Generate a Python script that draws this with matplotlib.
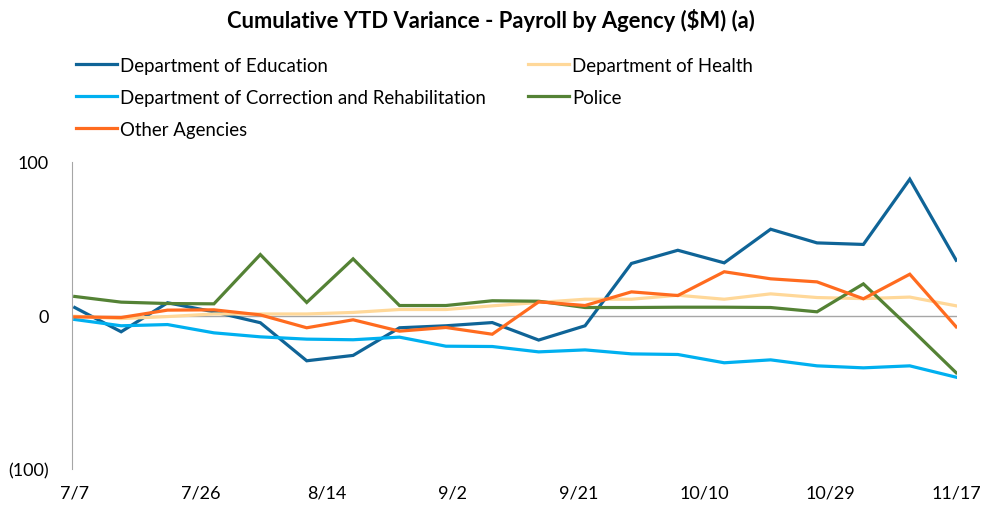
import numpy as np
import pandas as pd
import matplotlib
matplotlib.use("Agg")
import matplotlib.pyplot as plt

plt.rcParams['font.family'] = ['Lato', 'DejaVu Sans']

# weekly data points, 7/7 to 11/17
dates = pd.date_range("2023-07-07", periods=20, freq="7D")

education = [5.2, -10.6, 8.3, 2.4, -4.7, -29.5, -26, -8, -6.7, -4.6,
             -16, -6.7, 33.9, 42.5, 34.3, 56.2, 47.3, 46.3, 88.8, 36]
health = [-0.5, -2, -0.7, 1, 1, 1, 2, 3.9, 3.9, 6.3,
          8.5, 10.6, 10.6, 13.2, 10.6, 14.1, 11.7, 11, 12, 6.3]
correction = [-2.6, -6.7, -5.9, -11.3, -13.9, -15.4, -15.8, -14.1, -20, -20.2,
              -23.7, -22.4, -25, -25.4, -30.8, -28.9, -32.8, -34.1, -32.8, -40.2]
police = [12.4, 8.7, 7.8, 7.6, 39.7, 8.5, 36.9, 6.5, 6.5, 9.6,
          9.3, 5.2, 5.2, 5.4, 5.4, 5.2, 2.4, 20.6, -8, -37.3]
other = [-0.9, -1.3, 3.5, 3.7, 0.4, -8, -2.8, -10.2, -7.8, -12.2,
         8.9, 6.5, 15.4, 13, 28.5, 23.9, 21.9, 10.9, 26.9, -7.4]

series = [
    ("Department of Education", education, "#0F6497"),
    ("Department of Health", health, "#FFD899"),
    ("Department of Correction and Rehabilitation", correction, "#00B0F0"),
    ("Police", police, "#548235"),
    ("Other Agencies", other, "#FF6B1F"),
]

fig = plt.figure(figsize=(9.81, 5.06), dpi=100)
ax = fig.add_axes([72/981, 1-470/506, (957-72)/981, (470-163)/506])

lines = {}
for name, vals, col in series:
    ln, = ax.plot(dates, vals, color=col, linewidth=2.3, label=name,
                  solid_joinstyle="miter")
    lines[name] = ln

ax.axhline(0, color="#A6A6A6", linewidth=1.0, zorder=0)

ax.set_ylim(-100, 100)
ax.set_yticks([-100, 0, 100])
ax.set_yticklabels(["(100)", "0", "100"])
ax.set_xlim(dates[0] - pd.Timedelta(hours=10), dates[-1] + pd.Timedelta(hours=3))
ticks = pd.date_range(dates[0], dates[-1], freq="19D")
ax.set_xticks(ticks)
ax.set_xticklabels([f"{d.month}/{d.day}" for d in ticks])

for s in ["top", "right", "bottom"]:
    ax.spines[s].set_visible(False)
ax.spines["left"].set_color("#A6A6A6")
ax.tick_params(axis="both", length=0, labelsize=13, colors="black")
ax.tick_params(axis="y", pad=17)
ax.tick_params(axis="x", pad=11)

fig.text(0.5, 1-20/506, "Cumulative YTD Variance - Payroll by Agency ($M) (a)",
         ha="center", va="center", fontsize=15.8, fontweight="bold")

order = ["Department of Education", "Department of Correction and Rehabilitation",
         "Other Agencies", "Department of Health", "Police"]
fig.legend([lines[n] for n in order], order, loc="upper left",
           bbox_to_anchor=(76/981, 1-58/506), ncol=2, frameon=False,
           fontsize=13.4, handlelength=2.2, handletextpad=0.15,
           columnspacing=2.3, labelspacing=0.8, borderaxespad=0, borderpad=0)

fig.savefig("out.png", dpi=100)
